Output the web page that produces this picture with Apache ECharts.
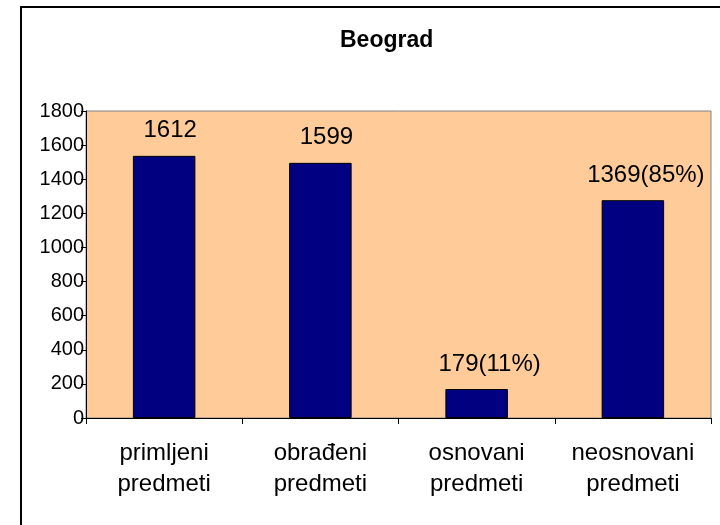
<!DOCTYPE html>
<html>
<head>
<meta charset="utf-8">
<script src="https://cdn.jsdelivr.net/npm/echarts@6/dist/echarts.min.js"></script>
<style>
  html, body { margin: 0; padding: 0; background: #ffffff; }
  #chart { width: 720px; height: 525px; }
</style>
</head>
<body>
<div id="chart"></div>
<script>
// ---- data ----
var categories = ['primljeni\npredmeti', 'obrađeni\npredmeti', 'osnovani\npredmeti', 'neosnovani\npredmeti'];
var barValues = [1537, 1496, 170, 1277];
var labelTexts = ['1612', '1599', '179(11%)', '1369(85%)'];
var yTicks = { min: 0, max: 1800, interval: 200 };
var titleText = 'Beograd';

// label offsets (presentation only)
var labelOffsets = [[6, 0], [6, 0], [13, 0], [13, 0]];

var FONT = "'Liberation Sans', Arial, sans-serif";

var seriesData = barValues.map(function (v, i) {
  return {
    value: v,
    label: { offset: labelOffsets[i] }
  };
});

var chart = echarts.init(document.getElementById('chart'), null, { renderer: 'canvas' });
chart.setOption({
  animation: false,
  backgroundColor: '#ffffff',
  title: {
    text: titleText,
    left: 335,
    top: 24,
    textStyle: { fontFamily: FONT, fontSize: 23, fontWeight: 'bold', color: '#000000' }
  },
  graphic: [{
    type: 'rect',
    shape: { x: 21, y: 7, width: 720, height: 540 },
    style: { fill: 'none', stroke: '#000000', lineWidth: 2 },
    silent: true
  }],
  grid: {
    left: 86, right: 9, top: 111, bottom: 107,
    show: true,
    backgroundColor: '#FFCC99',
    borderColor: '#808080',
    borderWidth: 1
  },
  xAxis: {
    type: 'category',
    data: categories,
    axisLine: { lineStyle: { color: '#000000', width: 1 } },
    axisTick: { show: true, length: 6, lineStyle: { color: '#000000' } },
    axisLabel: {
      fontFamily: FONT, fontSize: 24, lineHeight: 31, color: '#000000',
      margin: 20, interval: 0
    },
    splitLine: { show: false }
  },
  yAxis: {
    type: 'value',
    min: yTicks.min, max: yTicks.max, interval: yTicks.interval,
    axisLine: { show: true, lineStyle: { color: '#000000', width: 1 } },
    axisTick: { show: true, length: 5, lineStyle: { color: '#000000' } },
    axisLabel: {
      fontFamily: FONT, fontSize: 20, color: '#000000', margin: 2,
      formatter: function (v) { return String(v); }
    },
    splitLine: { show: false }
  },
  series: [{
    type: 'bar',
    data: seriesData,
    barCategoryGap: '60%',
    itemStyle: { color: '#000080', borderColor: '#000000', borderWidth: 1 },
    label: {
      show: true,
      position: 'top',
      distance: 13,
      fontFamily: FONT,
      fontSize: 24,
      color: '#000000',
      formatter: function (p) { return labelTexts[p.dataIndex]; }
    }
  }]
});
</script>
</body>
</html>
